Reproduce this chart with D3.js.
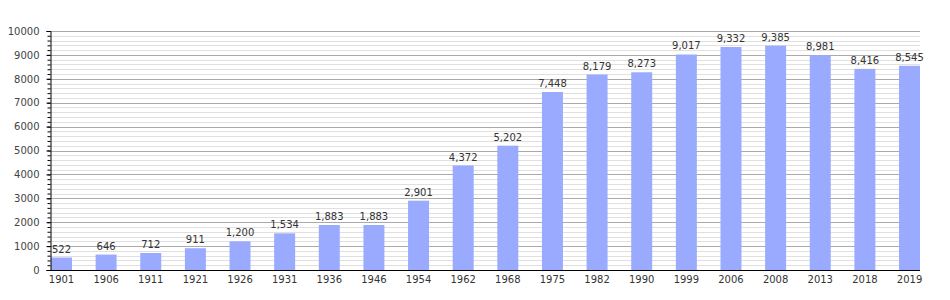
<!DOCTYPE html>
<html><head><meta charset="utf-8">
<script src="https://cdn.jsdelivr.net/npm/d3@7/dist/d3.min.js"></script>
<style>body{margin:0;background:#fff}svg{display:block}</style>
</head><body>
<script>
const years = ["1901","1906","1911","1921","1926","1931","1936","1946","1954","1962","1968","1975","1982","1990","1999","2006","2008","2013","2018","2019"];
const population = [522,646,712,911,1200,1534,1883,1883,2901,4372,5202,7448,8179,8273,9017,9332,9385,8981,8416,8545];
const yTicks = [0,1000,2000,3000,4000,5000,6000,7000,8000,9000,10000];

const W = 950, H = 300;
const mLeft = 50, mRight = 920, mTop = 31, mBottom = 270;
const svg = d3.select("body").append("svg").attr("width", W).attr("height", H);

const y = d3.scaleLinear().domain([0, 10000]).range([mBottom, mTop]);
const x = d3.scaleBand().domain(years).range([mLeft + 1, mRight]).paddingInner(0.53).paddingOuter(0);

// minor grid
svg.append("g").selectAll("line").data(d3.range(0, 10001, 200).filter(v => v % 1000 !== 0))
  .join("line").attr("x1", mLeft).attr("x2", mRight)
  .attr("y1", d => Math.round(y(d)) + 0.5).attr("y2", d => Math.round(y(d)) + 0.5)
  .attr("stroke", "#e0e0e0").attr("stroke-width", 1);
// major grid
svg.append("g").selectAll("line").data(yTicks.filter(v => v > 0))
  .join("line").attr("x1", mLeft).attr("x2", mRight)
  .attr("y1", d => Math.round(y(d)) + 0.5).attr("y2", d => Math.round(y(d)) + 0.5)
  .attr("stroke", "#aaaaaa").attr("stroke-width", 1);

// bars
svg.append("g").selectAll("rect").data(population)
  .join("rect")
  .attr("x", (d, i) => x(years[i]))
  .attr("width", x.bandwidth())
  .attr("y", d => y(d))
  .attr("height", d => mBottom - y(d))
  .attr("fill", "#99aaff");

// value labels
const fmt = d3.format(",");
svg.append("g").selectAll("text").data(population)
  .join("text")
  .attr("x", (d, i) => x(years[i]) + x.bandwidth() / 2)
  .attr("y", d => y(d) - 5)
  .attr("text-anchor", "middle")
  .attr("font-family", "DejaVu Sans, Verdana, sans-serif")
  .attr("font-size", 10)
  .attr("fill", "#333")
  .text(d => fmt(d));

// y axis
const yAxis = d3.axisLeft(y).tickValues(yTicks).tickSize(4).tickFormat(d3.format("d"));
const gy = svg.append("g").attr("transform", `translate(${mLeft + 0.5},0)`).call(yAxis);
gy.select(".domain").attr("stroke", "#000");
gy.selectAll(".tick line").attr("stroke", "#000");
gy.selectAll("text").attr("font-family", "DejaVu Sans, Verdana, sans-serif").attr("font-size", 10).attr("fill", "#444").attr("x", -11);
// minor ticks
const gyMinor = d3.axisLeft(y).tickValues(d3.range(0, 10001, 200)).tickSize(3).tickFormat("");
const gm = svg.append("g").attr("transform", `translate(${mLeft + 0.5},0)`).call(gyMinor);
gm.select(".domain").remove();
gm.selectAll(".tick line").attr("stroke", "#000");

// x axis
const xAxis = d3.axisBottom(x).tickSize(0).tickPadding(5);
const gx = svg.append("g").attr("transform", `translate(0,${mBottom + 0.5})`).call(xAxis);
gx.select(".domain").attr("stroke", "#000").attr("d", `M${mLeft},0H${mRight}`);
gx.selectAll("text").attr("font-family", "DejaVu Sans, Verdana, sans-serif").attr("font-size", 10).attr("fill", "#333");
</script>
</body></html>
